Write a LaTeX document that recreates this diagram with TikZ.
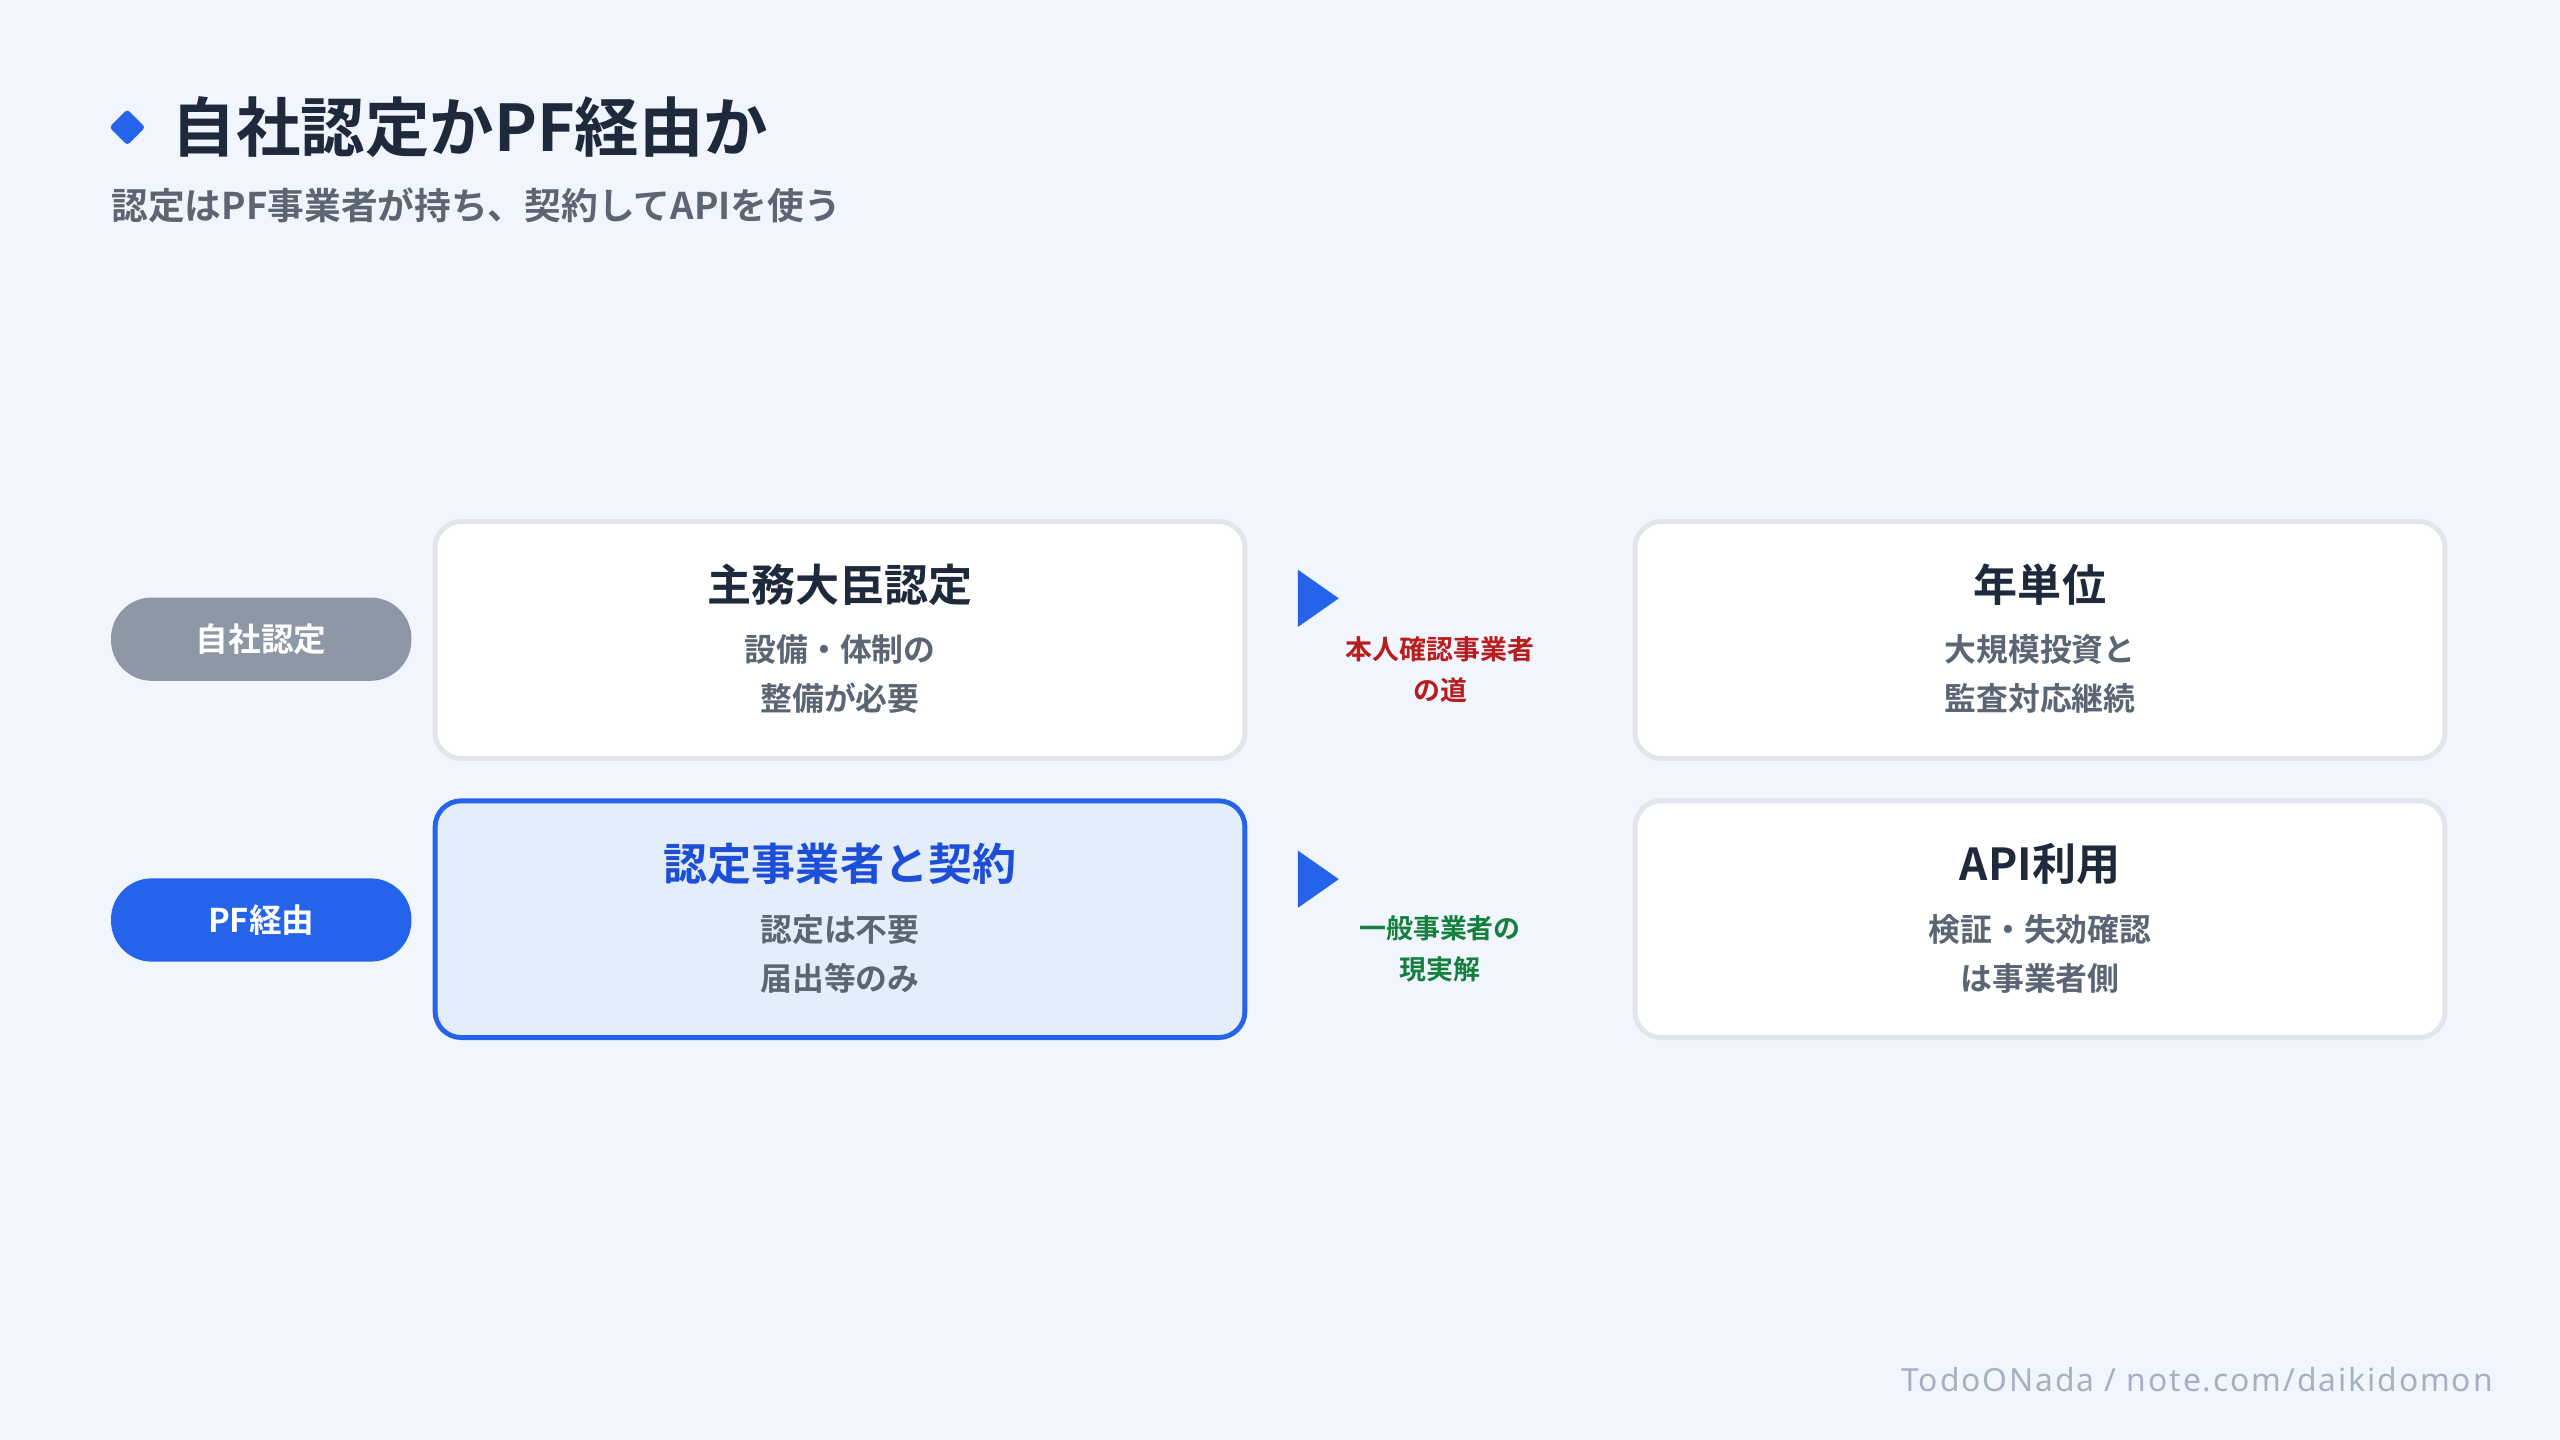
\documentclass[tikz,border=0pt]{standalone}
\usepackage{fontspec}
\setmainfont{Noto Sans CJK JP}[BoldFont={Noto Sans CJK JP Bold}]
\newfontfamily\lat{Noto Sans}[LetterSpace=6]
\definecolor{bg}{HTML}{F1F6FE}
\definecolor{blue}{HTML}{2563EB}
\definecolor{dblue}{HTML}{1D4ED8}
\definecolor{ink}{HTML}{1E293B}
\definecolor{sub}{HTML}{5B6574}
\definecolor{pillg}{HTML}{8E97A6}
\definecolor{bord}{HTML}{E2E5EA}
\definecolor{lblue}{HTML}{E3EDFC}
\definecolor{red}{HTML}{B91C1C}
\definecolor{green}{HTML}{15803D}
\definecolor{foot}{HTML}{A5B0C2}
\begin{document}
\begin{tikzpicture}[x=1pt,y=-1pt,
 box/.style={draw=bord,line width=3pt,fill=white,rounded corners=16pt,minimum width=496pt,minimum height=145pt},
 pill/.style={rounded corners=25pt,minimum width=184pt,minimum height=51pt,text=white,font=\bfseries\fontsize{20}{24}\selectfont},
 ttl/.style={font=\bfseries\fontsize{27}{32}\selectfont,text=ink},
 sb/.style={font=\bfseries\fontsize{19.5}{30}\selectfont,text=sub,align=center},
 tri/.style={fill=blue,draw=none},
 lab/.style={font=\bfseries\fontsize{16.5}{25}\selectfont,align=center}]
\fill[bg] (0,0) rectangle (1568,882);
\useasboundingbox (0,0) rectangle (1568,882);
\fill[blue,rounded corners=2pt] (78,67) -- (89,78) -- (78,89) -- (67,78) -- cycle;
\node[anchor=west,inner sep=0,font=\bfseries\fontsize{39.5}{44}\selectfont,text=ink] (title) at (105,78) {自社認定かPF経由か};
\node[anchor=west,inner sep=0,font=\bfseries\fontsize{22.5}{26}\selectfont,text=sub] (subt) at (68,126) {認定はPF事業者が持ち、契約してAPIを使う};
\node[pill,fill=pillg] (p1) at (160,391.5) {自社認定};
\node[pill,fill=blue] (p2) at (160,563.5) {PF経由};
\node[box] (b1) at (514.5,392) {};
\node[ttl] (b1t) at (514.5,358) {主務大臣認定};
\node[sb] (b1s) at (514.5,413) {設備・体制の\\整備が必要};
\node[box,draw=blue,fill=lblue] (b2) at (514.5,563) {};
\node[ttl,text=dblue] (b2t) at (514.5,529) {認定事業者と契約};
\node[sb] (b2s) at (514.5,584) {認定は不要\\届出等のみ};
\node[box] (b3) at (1249.5,392) {};
\node[ttl] (b3t) at (1249.5,358) {年単位};
\node[sb] (b3s) at (1249.5,413) {大規模投資と\\監査対応継続};
\node[box] (b4) at (1249.5,563) {};
\node[ttl] (b4t) at (1249.5,529) {API利用};
\node[sb] (b4s) at (1249.5,584) {検証・失効確認\\は事業者側};
\fill[tri] (795,349) -- (820,366.5) -- (795,384) -- cycle;
\fill[tri] (795,521) -- (820,538.5) -- (795,556) -- cycle;
\node[lab,text=red] (l1) at (882,410) {本人確認事業者\\の道};
\node[lab,text=green] (l2) at (882,581) {一般事業者の\\現実解};
\node[anchor=east,inner sep=0,font=\lat\bfseries\fontsize{19.5}{22}\selectfont,text=foot] (ft) at (1527,845) {TodoONada / note.com/daikidomon};
\end{tikzpicture}
\end{document}
